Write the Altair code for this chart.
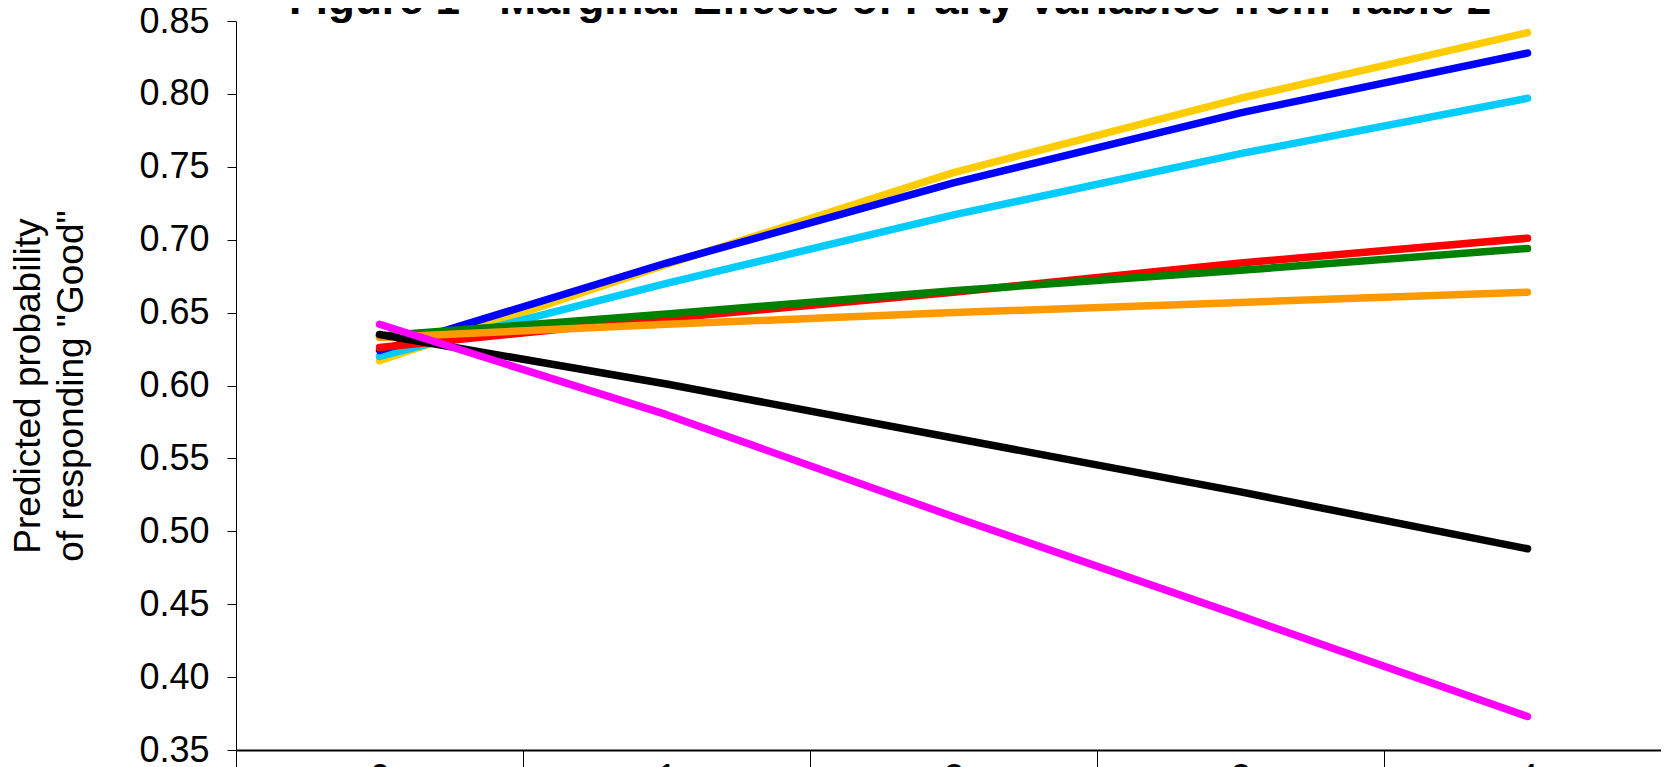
import altair as alt
import pandas as pd

# ---- data ----
x_categories = [0, 1, 2, 3, 4]
series_names = ["Series 1", "Series 2", "Series 3", "Series 4",
                "Series 5", "Series 6", "Series 7", "Series 8"]
series_colors = ["#FFCC00", "#00CCFF", "#0000FF", "#FF0000",
                 "#008000", "#FF9900", "#000000", "#FF00FF"]
yellow_vals = [0.617, 0.683, 0.746, 0.797, 0.842]
cyan_vals = [0.620, 0.670, 0.717, 0.759, 0.797]
blue_vals = [0.624, 0.684, 0.739, 0.787, 0.828]
red_vals = [0.626, 0.646, 0.664, 0.684, 0.701]
green_vals = [0.634, 0.649, 0.665, 0.679, 0.694]
orange_vals = [0.633, 0.642, 0.650, 0.657, 0.664]
black_vals = [0.635, 0.601, 0.564, 0.527, 0.488]
magenta_vals = [0.642, 0.580, 0.510, 0.442, 0.373]
y_ticks = [0.35, 0.40, 0.45, 0.50, 0.55, 0.60, 0.65, 0.70, 0.75, 0.80, 0.85]
chart_title = ["Figure 1 - Marginal Effects of Party Variables from Table 2"]
y_title = ["Predicted probability", 'of responding "Good"']

all_vals = [yellow_vals, cyan_vals, blue_vals, red_vals,
            green_vals, orange_vals, black_vals, magenta_vals]

rows = []
for name, vals in zip(series_names, all_vals):
    for xc, v in zip(x_categories, vals):
        rows.append({"series": name, "x": xc, "value": v})
df = pd.DataFrame(rows)

FONT = "Liberation Sans"
W, H = 1435, 729

x_enc = alt.X(
    "x:O",
    bandPosition=0.5,
    scale=alt.Scale(type="band", paddingInner=0, paddingOuter=0),
    axis=alt.Axis(
        title=None, tickBand="extent",
        tickSize=25, tickColor="black", tickWidth=1,
        domainColor="black", domainWidth=2,
        labelFontSize=36, labelFont=FONT, labelColor="black",
        labelPadding=-14, labelAngle=0, grid=False,
    ),
)
y_enc = alt.Y(
    "value:Q",
    scale=alt.Scale(domain=[0.35, 0.85], nice=False, zero=False),
    axis=alt.Axis(
        values=y_ticks, format=".2f", title=y_title,
        titleFontSize=37, titleFont=FONT, titleFontWeight="normal",
        titleColor="black", titleLineHeight=43, titlePadding=48,
        labelFontSize=36, labelFont=FONT, labelColor="black",
        labelPadding=18, tickSize=9, tickColor="black", tickWidth=1,
        domainColor="black", domainWidth=1, grid=False,
    ),
)

layers = []
for name, color in zip(series_names, series_colors):
    layers.append(
        alt.Chart(df)
        .transform_filter(alt.datum.series == name)
        .mark_line(color=color, strokeWidth=7.5, strokeCap="round", strokeJoin="round")
        .encode(x=x_enc, y=y_enc)
    )

title_df = pd.DataFrame({"t": chart_title})
title_layer = alt.Chart(title_df).mark_text(
    font=FONT, fontSize=44, fontWeight="bold", color="black",
    align="center", baseline="alphabetic",
).encode(text="t:N", x=alt.value(654), y=alt.value(-7))

chart = (
    alt.layer(*layers, title_layer)
    .properties(
        width=W, height=H,
        autosize=alt.AutoSizeParams(type="none"),
        padding={"left": 228, "top": 13, "right": -10, "bottom": 17},
        background="white",
    )
    .configure_view(stroke=None)
)

chart.save("out.html", embed_options={"renderer": "svg", "actions": False})
